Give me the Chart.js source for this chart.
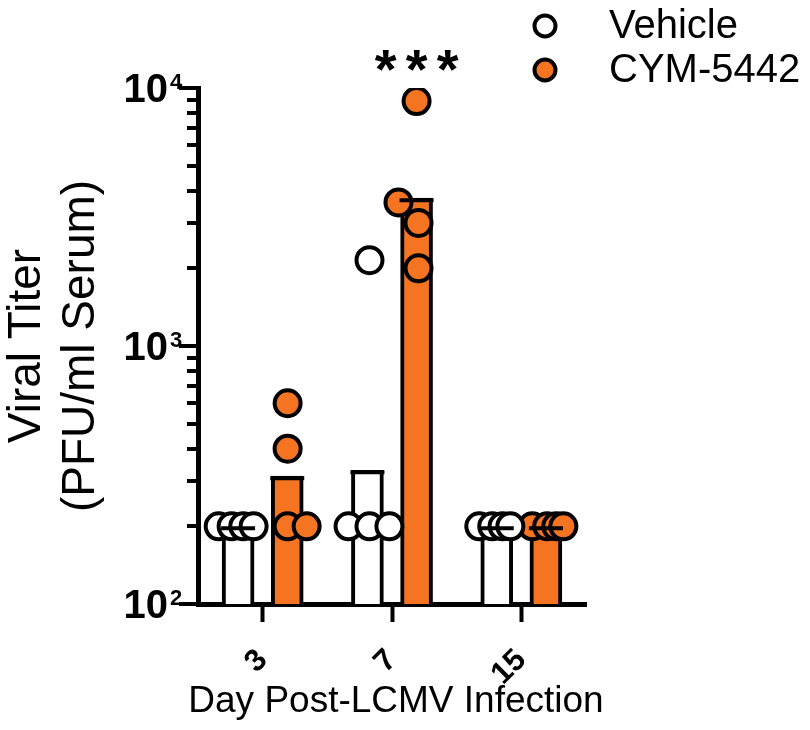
<!DOCTYPE html>
<html><head><meta charset="utf-8">
<script src="https://cdn.jsdelivr.net/npm/chart.js@4.4.1/dist/chart.umd.min.js"></script>
<style>html,body{margin:0;padding:0;background:#fff}#wrap{width:810px;height:730px}</style>
</head><body><div id="wrap"><canvas id="c" width="810" height="730"></canvas></div>
<script>
// ---- data ----
const categories = ['3', '7', '15'];
const seriesNames = ['Vehicle', 'CYM-5442'];
const vehicleMean = [200, 330, 200];
const cymMean = [313, 3740, 200];
const vehicleValues = [[200, 200, 200, 200], [200, 2150, 200, 200], [200, 200, 200, 200]];
const cymValues = [[600, 400, 200, 200], [8900, 3600, 3000, 2000], [200, 200, 200, 200]];
const yMajorTicks = [100, 1000, 10000];
const yTickExponents = ['2', '3', '4'];
const yMinorTicks = [200, 300, 400, 500, 600, 700, 800, 900, 2000, 3000, 4000, 5000, 6000, 7000, 8000, 9000];
const significance = ['', '***', ''];
const xTitle = 'Day Post-LCMV Infection';
const yTitle = ['Viral Titer', '(PFU/ml Serum)'];

// ---- layout only: group offsets and horizontal scatter of points, in fractions of a category ----
const groupOffset = [-0.19, 0.19];
const vehicleJitter = [[-0.34, -0.24, -0.15, -0.07], [-0.336, -0.174, -0.174, -0.02], [-0.325, -0.225, -0.145, -0.085]];
const cymJitter = [[0.193, 0.193, 0.193, 0.34], [0.19, 0.05, 0.205, 0.205], [0.085, 0.2, 0.27, 0.325]];

const ORANGE = '#F47421';
const FONT = "'Liberation Sans', Arial, Helvetica, sans-serif";

const toPoints = (vals, jit) => vals.flatMap((arr, i) => arr.map((v, j) => ({ x: i + jit[i][j], y: v })));
const toBars = (means, off) => means.map((v, i) => ({ x: i + off, y: v }));

const decor = {
  id: 'decor',
  afterDatasetsDraw(chart) {
    const ctx = chart.ctx;
    ctx.save();
    ctx.strokeStyle = '#000';
    ctx.lineWidth = 4;
    ctx.lineCap = 'butt';
    [0, 1].forEach(di => {
      chart.getDatasetMeta(di).data.forEach(el => {
        const y = el.y + 2;
        ctx.beginPath();
        ctx.moveTo(el.x - el.width / 2 - 1, y);
        ctx.lineTo(el.x + el.width / 2 + 1, y);
        ctx.stroke();
      });
    });
    ctx.restore();
  },
  afterDraw(chart) {
    const ctx = chart.ctx;
    const ys = chart.scales.y;
    const left = chart.chartArea.left;
    ctx.save();
    ctx.fillStyle = '#000';
    ctx.strokeStyle = '#000';
    ctx.lineWidth = 4;
    // y ticks
    yMinorTicks.forEach(v => {
      const y = Math.round(ys.getPixelForValue(v));
      ctx.beginPath(); ctx.moveTo(left - 11, y); ctx.lineTo(left, y); ctx.stroke();
    });
    yMajorTicks.forEach((v, i) => {
      const y = Math.round(ys.getPixelForValue(v));
      ctx.beginPath(); ctx.moveTo(left - 19, y); ctx.lineTo(left, y); ctx.stroke();
      ctx.font = 'bold 40px ' + FONT;
      ctx.textAlign = 'right';
      ctx.textBaseline = 'alphabetic';
      ctx.fillText('10', left - 30, y + 14);
      ctx.font = 'bold 22px ' + FONT;
      ctx.textAlign = 'left';
      ctx.fillText(yTickExponents[i], left - 28, y + 1);
    });
    // y title (two centred lines)
    ctx.font = '46px ' + FONT;
    ctx.textAlign = 'center';
    ctx.textBaseline = 'alphabetic';
    [[40, 0], [94, 1]].forEach(([bx, li]) => {
      ctx.save();
      ctx.translate(bx, 346);
      ctx.rotate(-Math.PI / 2);
      ctx.fillText(yTitle[li], 0, 0);
      ctx.restore();
    });
    // x title
    ctx.font = '37px ' + FONT;
    ctx.textAlign = 'center';
    ctx.fillText(xTitle, 396, 712);
    // legend
    const legendY = [26, 70];
    const legendFill = ['#fff', ORANGE];
    seriesNames.forEach((name, i) => {
      ctx.beginPath();
      ctx.arc(545, legendY[i], 10.5, 0, Math.PI * 2);
      ctx.fillStyle = legendFill[i];
      ctx.fill();
      ctx.lineWidth = 4;
      ctx.stroke();
      ctx.fillStyle = '#000';
      ctx.font = '40px ' + FONT;
      ctx.textAlign = 'left';
      ctx.textBaseline = 'middle';
      ctx.fillText(name, 609, legendY[i] + 1);
    });
    // significance
    ctx.font = 'bold 56px ' + FONT;
    ctx.textAlign = 'center';
    ctx.textBaseline = 'alphabetic';
    const cymMeta = chart.getDatasetMeta(1);
    significance.forEach((s, i) => {
      if (!s) return;
      const cx = cymMeta.data[i].x;
      const m = ctx.measureText('*');
      const base = 60 + (m.actualBoundingBoxAscent - m.actualBoundingBoxDescent) / 2;
      const chars = s.split('');
      chars.forEach((ch, k) => {
        ctx.fillText(ch, cx + (k - (chars.length - 1) / 2) * 31, base);
      });
    });
    ctx.restore();
  }
};

new Chart(document.getElementById('c'), {
  type: 'bar',
  data: {
    datasets: [
      { type: 'bar', label: seriesNames[0], data: toBars(vehicleMean, groupOffset[0]), backgroundColor: '#fff', borderColor: '#000', borderWidth: 4,
        grouped: false, categoryPercentage: 1, barPercentage: 1, maxBarThickness: 32, order: 2 },
      { type: 'bar', label: seriesNames[1], data: toBars(cymMean, groupOffset[1]), backgroundColor: ORANGE, borderColor: '#000', borderWidth: 4,
        grouped: false, categoryPercentage: 1, barPercentage: 1, maxBarThickness: 32, order: 2 },
      { type: 'scatter', label: seriesNames[0] + ' points', data: toPoints(vehicleValues, vehicleJitter),
        pointRadius: 13, pointBorderWidth: 4, backgroundColor: '#fff', borderColor: '#000', order: 1 },
      { type: 'scatter', label: seriesNames[1] + ' points', data: toPoints(cymValues, cymJitter),
        pointRadius: 13, pointBorderWidth: 4, backgroundColor: ORANGE, borderColor: '#000', order: 1 }
    ]
  },
  options: {
    responsive: false,
    animation: false,
    events: [],
    layout: { padding: { left: 0, top: 88, right: 224, bottom: 0 } },
    plugins: { legend: { display: false }, tooltip: { enabled: false } },
    scales: {
      x: {
        type: 'linear', min: -0.5, max: 2.5, offset: false,
        afterBuildTicks: s => { s.ticks = categories.map((_, i) => ({ value: i })); },
        grid: { display: true, drawOnChartArea: false, offset: false, tickLength: 18, tickWidth: 4, tickColor: '#000' },
        border: { display: true, width: 5, color: '#000' },
        ticks: { color: '#000', font: { family: FONT, size: 31, weight: 'bold' }, minRotation: 45, maxRotation: 45, padding: 20, autoSkip: false,
          callback: v => categories[Math.round(v)] },
        afterFit: s => { s.height = 126; }
      },
      y: {
        type: 'logarithmic', min: 100, max: 10000,
        grid: { display: false },
        border: { display: true, width: 5, color: '#000' },
        ticks: { display: false },
        afterFit: s => { s.width = 198; }
      }
    }
  },
  plugins: [decor]
});
</script>
</body></html>
